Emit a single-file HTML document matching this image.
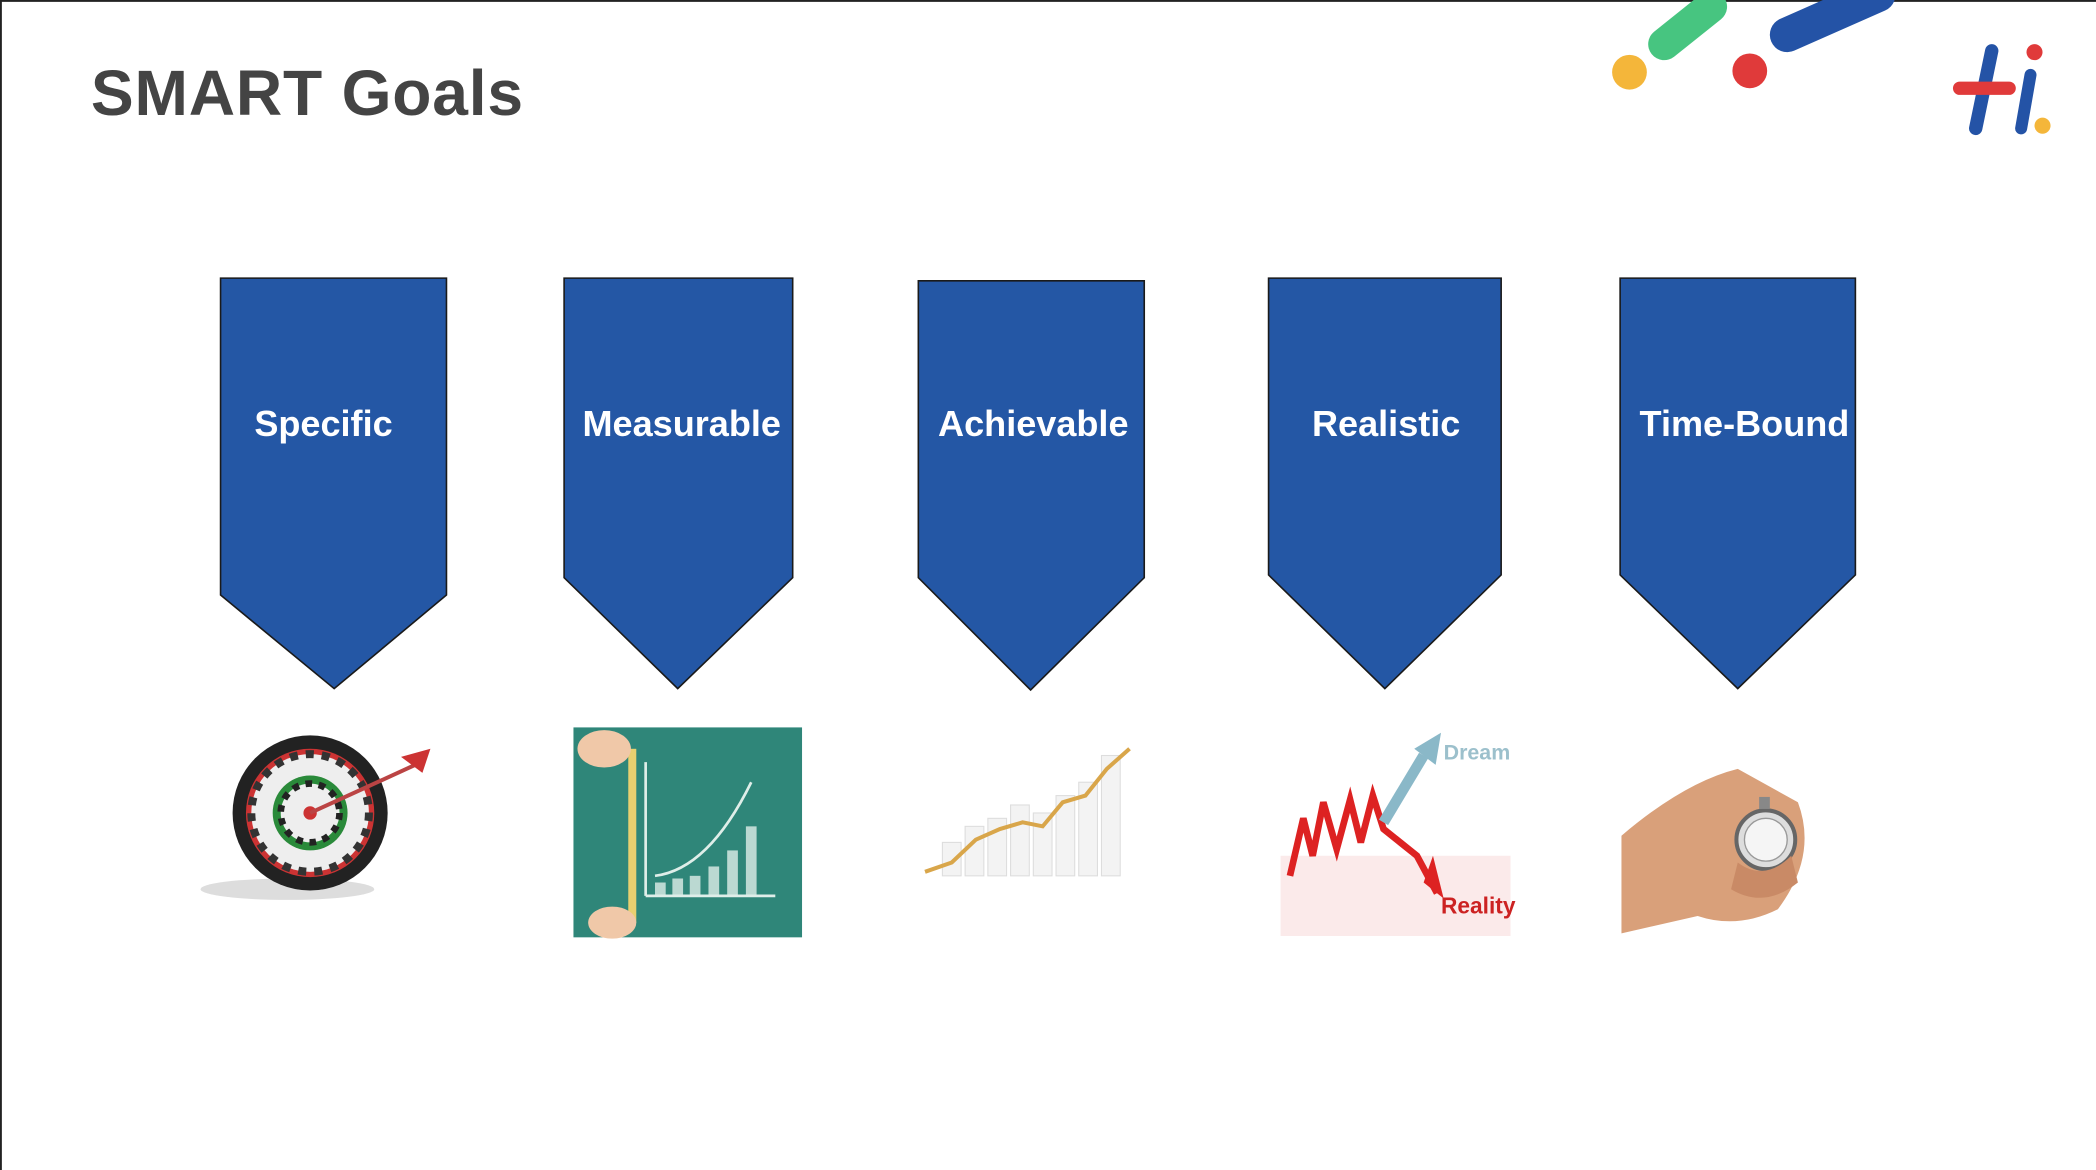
<!DOCTYPE html>
<html><head><meta charset="utf-8"><style>
html,body{margin:0;padding:0;background:#fff;}
svg{display:block;}
text{font-family:"Liberation Sans",sans-serif;}
</style></head><body>
<svg width="2096" height="1170" viewBox="0 0 1568 875" preserveAspectRatio="none" xmlns="http://www.w3.org/2000/svg">
<rect x="0" y="0" width="1568" height="875" fill="#fff"/>
<line x1="0.7" y1="0" x2="0.7" y2="875" stroke="#222" stroke-width="1.4"/>
<line x1="0" y1="0.7" x2="1568" y2="0.7" stroke="#222" stroke-width="1.4"/>
<text x="68" y="86" font-size="48" font-weight="bold" fill="#444" letter-spacing="0.6">SMART Goals</text>

<g>
<circle cx="1219" cy="54" r="13" fill="#f4b63a"/>
<line x1="1245" y1="33" x2="1280" y2="5" stroke="#47c580" stroke-width="24" stroke-linecap="round"/>
<circle cx="1309" cy="53" r="13" fill="#e03a3a"/>
<line x1="1337" y1="26" x2="1405" y2="-4" stroke="#2453a6" stroke-width="26" stroke-linecap="round"/>
</g>
<g>
<line x1="1490" y1="38" x2="1478" y2="96" stroke="#2453a6" stroke-width="10" stroke-linecap="round"/>
<line x1="1466" y1="66" x2="1503" y2="66" stroke="#e03a3a" stroke-width="10" stroke-linecap="round"/>
<line x1="1519" y1="56" x2="1512" y2="96" stroke="#2453a6" stroke-width="9" stroke-linecap="round"/>
<circle cx="1522" cy="39" r="6" fill="#e03a3a"/>
<circle cx="1528" cy="94" r="6" fill="#f4b63a"/>
</g>

<g stroke="#1a1a1a" stroke-width="1.2" fill="#2457a5">
<polygon points="165,208 334,208 334,445 250,515 165,445"/>
<polygon points="422,208 593,208 593,432 507,515 422,432"/>
<polygon points="687,210 856,210 856,432 771,516 687,432"/>
<polygon points="949,208 1123,208 1123,430 1036,515 949,430"/>
<polygon points="1212,208 1388,208 1388,430 1300,515 1212,430"/>
</g>
<g font-size="27" font-weight="bold" fill="#fff" text-anchor="middle">
<text x="242" y="326">Specific</text>
<text x="510" y="326">Measurable</text>
<text x="773" y="326">Achievable</text>
<text x="1037" y="326">Realistic</text>
<text x="1305" y="326">Time-Bound</text>
</g>

<g>
<ellipse cx="215" cy="665" rx="65" ry="8" fill="#ddd"/>
<circle cx="232" cy="608" r="58" fill="#222"/>
<circle cx="232" cy="608" r="48" fill="#c33" />
<circle cx="232" cy="608" r="44" fill="#eee" stroke="#333" stroke-width="6" stroke-dasharray="6 6"/>
<circle cx="232" cy="608" r="28" fill="#2a8a3a"/>
<circle cx="232" cy="608" r="22" fill="#eee" stroke="#222" stroke-width="5" stroke-dasharray="5 5"/>
<circle cx="232" cy="608" r="5" fill="#c33"/>
<line x1="232" y1="608" x2="315" y2="570" stroke="#b44" stroke-width="3"/>
<polygon points="300,566 322,560 316,578" fill="#c33"/>
</g>

<g>
<rect x="429" y="544" width="171" height="157" fill="#2f8679"/>
<rect x="470" y="560" width="6" height="130" fill="#e8d070"/>
<ellipse cx="452" cy="560" rx="20" ry="14" fill="#f0c8a8"/>
<ellipse cx="458" cy="690" rx="18" ry="12" fill="#f0c8a8"/>
<g fill="none" stroke="#dfeee9" stroke-width="2">
<line x1="483" y1="570" x2="483" y2="670"/><line x1="483" y1="670" x2="580" y2="670"/>
<path d="M490 655 Q530 650 562 585"/>
</g>
<g fill="#dfeee9" opacity="0.8">
<rect x="490" y="660" width="8" height="10"/><rect x="503" y="657" width="8" height="13"/>
<rect x="516" y="655" width="8" height="15"/><rect x="530" y="648" width="8" height="22"/>
<rect x="544" y="636" width="8" height="34"/><rect x="558" y="618" width="8" height="52"/>
</g>
</g>

<g>
<g fill="#f3f3f3" stroke="#ddd" stroke-width="0.8">
<rect x="705" y="630" width="14" height="25"/><rect x="722" y="618" width="14" height="37"/>
<rect x="739" y="612" width="14" height="43"/><rect x="756" y="602" width="14" height="53"/>
<rect x="773" y="608" width="14" height="47"/><rect x="790" y="595" width="14" height="60"/>
<rect x="807" y="585" width="14" height="70"/><rect x="824" y="565" width="14" height="90"/>
</g>
<polyline points="692,652 712,645 730,628 748,620 765,615 780,618 795,600 812,595 828,575 845,560" fill="none" stroke="#d9a64a" stroke-width="3"/>
</g>

<g>
<rect x="958" y="640" width="172" height="60" fill="#fbeaea"/>
<polyline points="965,655 975,612 982,640 990,600 1000,635 1010,598 1018,630 1027,595 1035,620 1060,640 1075,668" fill="none" stroke="#dd2222" stroke-width="5"/>
<polygon points="1065,660 1080,672 1072,640" fill="#dd2222"/>
<line x1="1035" y1="615" x2="1065" y2="565" stroke="#8ab8c8" stroke-width="8"/>
<polygon points="1058,560 1078,548 1074,572" fill="#8ab8c8"/>
<text x="1080" y="568" font-size="16" font-weight="bold" fill="#9cc0cc">Dream</text>
<text x="1078" y="683" font-size="17" font-weight="bold" fill="#cc2222">Reality</text>
</g>

<g>
<path d="M1213 625 Q1260 585 1300 575 L1345 600 Q1360 640 1330 680 Q1300 695 1270 685 L1213 698 Z" fill="#d9a07a"/>
<circle cx="1321" cy="628" r="22" fill="#ddd" stroke="#666" stroke-width="3"/>
<circle cx="1321" cy="628" r="16" fill="#f5f5f5" stroke="#999" stroke-width="1"/>
<rect x="1316" y="596" width="8" height="9" fill="#888"/>
<path d="M1300 645 Q1320 660 1340 640 L1345 660 Q1320 680 1295 665 Z" fill="#c98a66"/>
</g>
</svg>
</body></html>
